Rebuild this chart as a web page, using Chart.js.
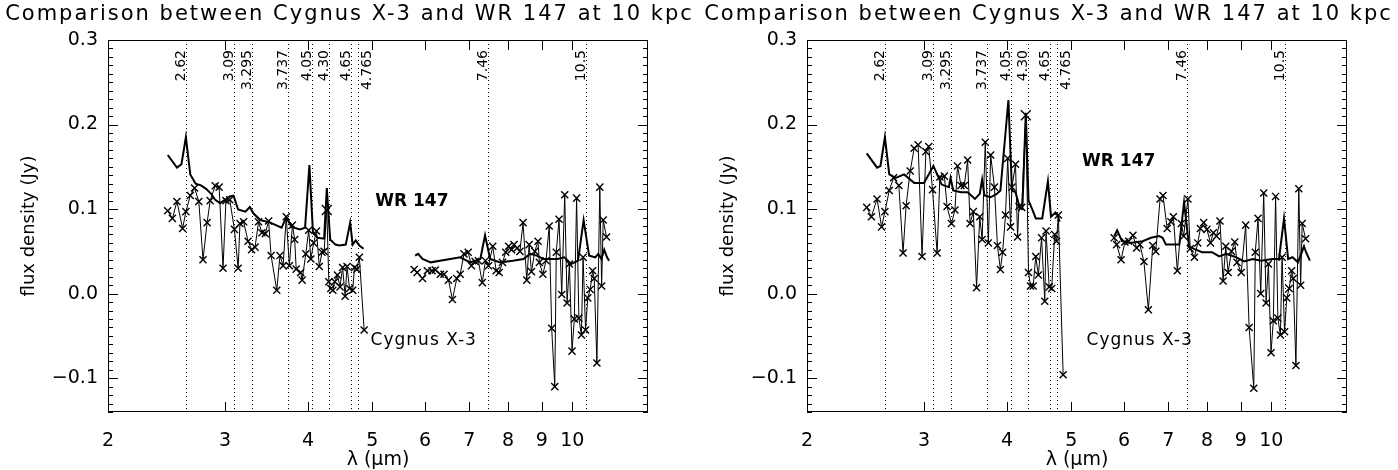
<!DOCTYPE html>
<html>
<head>
<meta charset="utf-8">
<script src="https://cdn.jsdelivr.net/npm/chart.js@4.4.0/dist/chart.umd.min.js"></script>
<style>
  body { margin: 0; background: #fff; }
  .row { display: flex; width: 1398px; height: 470px; }
  canvas { display: block; }
</style>
</head>
<body>
<div class="row">
  <canvas id="left" width="699" height="470"></canvas>
  <canvas id="right" width="699" height="470"></canvas>
</div>
<script>
const titleText = 'Comparison between Cygnus X-3 and WR 147 at 10 kpc';
const featureLines = [2.62, 3.09, 3.295, 3.737, 4.05, 4.30, 4.65, 4.765, 7.46, 10.5];
const featureLabels = ['2.62', '3.09', '3.295', '3.737', '4.05', '4.30', '4.65', '4.765', '7.46', '10.5'];
const labelsOnRight = ['4.765']; // this one sits to the right of its line
const xTicks = [2, 3, 4, 5, 6, 7, 8, 9, 10];
const yTicks = [-0.1, 0.0, 0.1, 0.2, 0.3];
const bigMarkAt = 4.27; // the one bigger cross in both panels

// left panel, WR 147 (null = gap between the two spectra)
const wrLeftX = [2.46, 2.54, 2.58, 2.62, 2.66, 2.71, 2.76, 2.81, 2.86, 2.90, 2.95, 3.00, 3.05, 3.09, 3.14, 3.22, 3.27, 3.31, 3.39, 3.51,
  3.65, 3.71, 3.78, 3.89, 3.96, 4.02, 4.07, 4.14, 4.23, 4.27, 4.32, 4.40, 4.46, 4.56, 4.63, 4.67, 4.72, 4.78, 4.85, 5.3,
  5.80, 5.86, 5.95, 6.12, 6.55, 6.78, 7.02, 7.27, 7.39, 7.52, 7.79, 8.14, 8.44, 8.64, 8.84, 9.05, 9.50, 9.73, 9.96, 10.2,
  10.4, 10.6, 10.83, 10.94, 11.06, 11.17, 11.28, 11.36];
const wrLeftY = [0.164, 0.149, 0.153, 0.185, 0.141, 0.130, 0.128, 0.124, 0.118, 0.111, 0.107, 0.111, 0.115, 0.116, 0.0995, 0.097, 0.1025, 0.095, 0.087, 0.084,
  0.078, 0.090, 0.079, 0.076, 0.078, 0.152, 0.072, 0.066, 0.065, 0.125, 0.064, 0.058, 0.057, 0.058, 0.084, 0.058, 0.063, 0.057, 0.053, null,
  0.045, 0.047, 0.041, 0.037, 0.041, 0.043, 0.037, 0.041, 0.069, 0.041, 0.037, 0.039, 0.041, 0.047, 0.045, 0.041, 0.041, 0.043, 0.035, 0.039,
  0.087, 0.045, 0.043, 0.047, 0.041, 0.052, 0.043, 0.039];

// left panel, Cygnus X-3
const cygLeftX = [2.46, 2.50, 2.54, 2.59, 2.62, 2.66, 2.70, 2.74, 2.78, 2.82, 2.85, 2.90, 2.94, 2.98, 3.01, 3.05, 3.10, 3.14, 3.16, 3.20,
  3.25, 3.29, 3.33, 3.37, 3.41, 3.45, 3.49, 3.52, 3.59, 3.63, 3.67, 3.71, 3.75, 3.79, 3.82, 3.84, 3.90, 3.92, 3.97, 4.01,
  4.04, 4.08, 4.12, 4.16, 4.20, 4.23, 4.27, 4.30, 4.33, 4.36, 4.39, 4.43, 4.47, 4.51, 4.55, 4.58, 4.62, 4.67, 4.70, 4.74,
  4.78, 4.86, 5.3,
  5.78, 5.84, 5.95, 6.05, 6.15, 6.22, 6.33, 6.41, 6.51, 6.60, 6.70, 6.78, 6.87, 6.97, 7.05, 7.14, 7.22, 7.32, 7.40, 7.48,
  7.59, 7.68, 7.76, 7.85, 7.94, 8.02, 8.10, 8.17, 8.26, 8.34, 8.43, 8.54, 8.61, 8.68, 8.78, 8.88, 8.92, 9.03, 9.13, 9.23,
  9.31, 9.41, 9.46, 9.55, 9.64, 9.74, 9.82, 9.90, 9.99, 10.07, 10.15, 10.23, 10.32, 10.38, 10.47, 10.55, 10.64, 10.73, 10.79, 10.89,
  11.00, 11.07, 11.13, 11.26];
const cygLeftY = [0.098, 0.089, 0.109, 0.077, 0.097, 0.116, 0.125, 0.109, 0.040, 0.084, 0.110, 0.1275, 0.126, 0.030, 0.110, 0.111, 0.076, 0.030, 0.083, 0.085,
  0.062, 0.052, 0.055, 0.085, 0.072, 0.071, 0.086, 0.045, 0.004, 0.045, 0.033, 0.091, 0.033, 0.081, 0.064, 0.029, 0.025, 0.016, 0.047, 0.075,
  0.041, 0.060, 0.074, 0.032, 0.049, 0.050, 0.099, 0.014, 0.006, 0.004, 0.014, 0.022, 0.008, 0.031, -0.003, 0.032, 0.006, 0.004, 0.031, 0.029,
  0.043, -0.043, null,
  0.0285, 0.025, 0.018, 0.027, 0.027, 0.028, 0.023, 0.023, 0.016, -0.007, 0.018, 0.023, 0.047, 0.049, 0.033, 0.038, 0.039, 0.013, 0.039, 0.033,
  0.056, 0.027, 0.025, 0.037, 0.049, 0.056, 0.052, 0.058, 0.054, 0.050, 0.084, 0.016, 0.058, 0.026, 0.050, 0.062, 0.037, 0.023, 0.039, 0.080,
  -0.041, -0.110, 0.049, 0.088, -0.001, 0.117, -0.011, 0.035, -0.068, -0.030, 0.113, -0.029, -0.049, 0.043, -0.043, -0.005, 0.005, 0.027, 0.018, -0.082,
  0.126, 0.009, 0.087, 0.067];

// right panel, WR 147
const wrRightX = [2.46, 2.55, 2.58, 2.62, 2.66, 2.72, 2.80, 2.90, 3.00, 3.10, 3.14, 3.19, 3.27, 3.29, 3.32, 3.41, 3.49, 3.58, 3.64, 3.67,
  3.70, 3.78, 3.86, 3.91, 4.02, 4.07, 4.12, 4.18, 4.22, 4.27, 4.31, 4.37, 4.42, 4.52, 4.61, 4.66, 4.72, 4.77, 4.80, 5.3,
  5.80, 5.86, 5.96, 6.13, 6.40, 6.59, 6.78, 6.86, 6.94, 7.27, 7.39, 7.52, 7.65, 7.87, 8.14, 8.35, 8.55, 8.85, 9.10, 9.38,
  9.65, 10.04, 10.27, 10.45, 10.60, 10.76, 10.97, 11.20, 11.28, 11.43];
const wrRightY = [0.166, 0.149, 0.151, 0.185, 0.141, 0.137, 0.141, 0.131, 0.131, 0.151, 0.141, 0.129, 0.126, 0.137, 0.122, 0.120, 0.120, 0.112, 0.118, 0.135,
  0.116, 0.114, 0.118, 0.122, 0.229, 0.122, 0.120, 0.102, 0.101, 0.214, 0.110, 0.099, 0.089, 0.089, 0.133, 0.091, 0.095, 0.093, 0.085, null,
  0.068, 0.075, 0.062, 0.060, 0.062, 0.066, 0.068, 0.066, 0.058, 0.058, 0.108, 0.056, 0.053, 0.049, 0.049, 0.044, 0.047, 0.043, 0.038, 0.041,
  0.039, 0.041, 0.041, 0.089, 0.041, 0.043, 0.037, 0.056, 0.049, 0.039];

// right panel, Cygnus X-3
const cygRightX = [2.46, 2.50, 2.55, 2.59, 2.62, 2.66, 2.70, 2.75, 2.79, 2.82, 2.86, 2.90, 2.94, 2.98, 3.02, 3.05, 3.09, 3.14, 3.17, 3.22,
  3.25, 3.30, 3.34, 3.37, 3.41, 3.45, 3.49, 3.52, 3.56, 3.60, 3.64, 3.67, 3.71, 3.75, 3.78, 3.83, 3.87, 3.91, 3.94, 3.98,
  4.01, 4.05, 4.07, 4.12, 4.15, 4.17, 4.21, 4.27, 4.31, 4.34, 4.38, 4.42, 4.46, 4.51, 4.56, 4.58, 4.63, 4.67, 4.72, 4.75,
  4.78, 4.86, 5.3,
  5.80, 5.85, 5.94, 6.02, 6.10, 6.19, 6.27, 6.34, 6.43, 6.53, 6.63, 6.70, 6.80, 6.87, 6.97, 7.06, 7.12, 7.22, 7.32, 7.38,
  7.49, 7.55, 7.66, 7.75, 7.82, 7.91, 8.00, 8.10, 8.18, 8.27, 8.37, 8.46, 8.54, 8.61, 8.71, 8.81, 8.88, 9.01, 9.15, 9.26,
  9.41, 9.46, 9.55, 9.64, 9.74, 9.82, 9.90, 9.99, 10.07, 10.15, 10.23, 10.32, 10.38, 10.47, 10.55, 10.64, 10.73, 10.79, 10.89, 11.00,
  11.07, 11.13, 11.26];
const cygRightY = [0.102, 0.091, 0.112, 0.079, 0.097, 0.122, 0.137, 0.128, 0.048, 0.104, 0.145, 0.172, 0.176, 0.044, 0.168, 0.174, 0.123, 0.048, 0.138, 0.139,
  0.103, 0.083, 0.099, 0.151, 0.128, 0.128, 0.158, 0.083, 0.097, 0.007, 0.091, 0.064, 0.179, 0.060, 0.164, 0.126, 0.057, 0.0285, 0.049, 0.093,
  0.160, 0.079, 0.126, 0.153, 0.067, 0.103, 0.102, 0.211, 0.025, 0.009, 0.009, 0.044, 0.022, 0.066, -0.009, 0.074, 0.008, 0.006, 0.070, 0.062,
  0.093, -0.096, null,
  0.066, 0.058, 0.040, 0.061, 0.062, 0.069, 0.054, 0.058, 0.038, -0.019, 0.057, 0.050, 0.112, 0.116, 0.077, 0.085, 0.091, 0.027, 0.083, 0.068,
  0.112, 0.053, 0.043, 0.060, 0.077, 0.084, 0.076, 0.060, 0.072, 0.068, 0.086, 0.015, 0.056, 0.025, 0.050, 0.061, 0.037, 0.025, 0.081, -0.040,
  -0.112, 0.049, 0.089, 0.000, 0.119, -0.011, 0.035, -0.070, -0.032, 0.115, -0.029, -0.049, 0.043, -0.045, -0.005, 0.006, 0.027, 0.018, -0.085, 0.124,
  0.010, 0.083, 0.065];

const fam = '"DejaVu Sans", sans-serif';

function pts(xs, ys) {
    return xs.map((x, i) => ({ x: x, y: ys[i] }));
}

// frame, inward ticks, dotted feature lines, title and text labels
const decorPlugin = {
    id: 'decor',
    afterDraw(chart, args, opts) {
        const ctx = chart.ctx;
        const area = chart.chartArea;
        const xs = chart.scales.x;
        const ys = chart.scales.y;
        ctx.save();
        ctx.strokeStyle = '#000';
        ctx.fillStyle = '#000';
        ctx.lineWidth = 1;

        // dotted lines
        ctx.setLineDash([1, 3]);
        featureLines.forEach(v => {
            const px = Math.round(xs.getPixelForValue(v)) + 0.5;
            ctx.beginPath();
            ctx.moveTo(px, area.top);
            ctx.lineTo(px, area.bottom);
            ctx.stroke();
        });
        ctx.setLineDash([]);

        // frame
        ctx.strokeRect(area.left + 0.5, area.top + 0.5, area.right - area.left - 1, area.bottom - area.top - 1);

        // x ticks, bottom and top
        ctx.beginPath();
        xTicks.forEach(v => {
            const px = Math.round(xs.getPixelForValue(v)) + 0.5;
            ctx.moveTo(px, area.bottom);
            ctx.lineTo(px, area.bottom - 10);
            ctx.moveTo(px, area.top);
            ctx.lineTo(px, area.top + 10);
        });
        // y ticks, left and right, minor every 0.01
        for (let k = -14; k <= 30; k++) {
            const py = Math.round(ys.getPixelForValue(k / 100)) + 0.5;
            const len = (k % 10 === 0) ? 10 : 5;
            ctx.moveTo(area.left, py);
            ctx.lineTo(area.left + len, py);
            ctx.moveTo(area.right, py);
            ctx.lineTo(area.right - len, py);
        }
        ctx.stroke();

        // rotated labels of the feature lines
        ctx.font = '14px ' + fam;
        ctx.textAlign = 'right';
        featureLines.forEach((v, i) => {
            const px = Math.round(xs.getPixelForValue(v));
            const onRight = labelsOnRight.includes(featureLabels[i]);
            ctx.save();
            ctx.translate(onRight ? px + 2 : px - 1, area.top + 10);
            ctx.rotate(-Math.PI / 2);
            ctx.textBaseline = onRight ? 'top' : 'alphabetic';
            ctx.fillText(featureLabels[i], 0, 0);
            ctx.restore();
        });

        // title
        ctx.font = '21px ' + fam;
        ctx.letterSpacing = '2px';
        ctx.textAlign = 'center';
        ctx.textBaseline = 'alphabetic';
        ctx.fillText(titleText, chart.width / 2, 20);
        ctx.letterSpacing = '0px';

        // series names
        ctx.textAlign = 'left';
        ctx.textBaseline = 'middle';
        ctx.font = 'bold 17px ' + fam;
        ctx.fillText('WR 147', xs.getPixelForValue(opts.wrAt[0]), ys.getPixelForValue(opts.wrAt[1]));
        ctx.font = '17px ' + fam;
        ctx.letterSpacing = '1px';
        ctx.fillText('Cygnus X-3', xs.getPixelForValue(opts.cygAt[0]), ys.getPixelForValue(opts.cygAt[1]));
        ctx.letterSpacing = '0px';
        ctx.restore();
    }
};

function makeChart(id, wr, cyg, wrAt, cygAt) {
    return new Chart(document.getElementById(id), {
        type: 'line',
        data: {
            datasets: [
                {
                    label: 'WR 147',
                    data: wr,
                    borderColor: '#000',
                    borderWidth: 2,
                    pointRadius: 0,
                    tension: 0,
                    spanGaps: false
                },
                {
                    label: 'Cygnus X-3',
                    data: cyg,
                    borderColor: '#000',
                    backgroundColor: '#000',
                    borderWidth: 1,
                    pointStyle: 'crossRot',
                    pointRadius: c => (c.raw && c.raw.x === bigMarkAt) ? 7 : 5,
                    pointBorderWidth: 1.4,
                    tension: 0,
                    spanGaps: false
                }
            ]
        },
        options: {
            responsive: false,
            animation: false,
            layout: { padding: { top: 40, right: 51, left: 0, bottom: 0 } },
            plugins: {
                legend: { display: false },
                tooltip: { enabled: false },
                decor: { wrAt: wrAt, cygAt: cygAt }
            },
            scales: {
                x: {
                    type: 'logarithmic',
                    min: 2,
                    max: 13,
                    afterBuildTicks: s => { s.ticks = xTicks.map(v => ({ value: v })); },
                    afterFit: s => { s.height = 58; },
                    grid: { display: false, drawTicks: false },
                    border: { display: false },
                    ticks: {
                        callback: v => String(v),
                        color: '#000',
                        font: { family: fam, size: 19 },
                        padding: 18,
                        maxRotation: 0,
                        autoSkip: false
                    },
                    title: {
                        display: true,
                        text: 'λ (μm)',
                        color: '#000',
                        font: { family: fam, size: 19, lineHeight: 1 },
                        padding: { top: 0, bottom: 0 }
                    }
                },
                y: {
                    min: -0.14,
                    max: 0.3,
                    afterBuildTicks: s => { s.ticks = yTicks.map(v => ({ value: v })); },
                    afterFit: s => { s.width = 108; },
                    grid: { display: false, drawTicks: false },
                    border: { display: false },
                    ticks: {
                        callback: v => (v < 0 ? '−' + Math.abs(v).toFixed(1) : v.toFixed(1)),
                        color: '#000',
                        font: { family: fam, size: 19 },
                        padding: 10
                    },
                    title: {
                        display: true,
                        text: 'flux density (Jy)',
                        color: '#000',
                        font: { family: fam, size: 18 },
                        padding: { top: 19, bottom: 0 }
                    }
                }
            }
        },
        plugins: [decorPlugin]
    });
}

makeChart('left', pts(wrLeftX, wrLeftY), pts(cygLeftX, cygLeftY), [5.05, 0.109], [4.97, -0.055]);
makeChart('right', pts(wrRightX, wrRightY), pts(cygRightX, cygRightY), [5.19, 0.156], [5.27, -0.055]);
</script>
</body>
</html>
